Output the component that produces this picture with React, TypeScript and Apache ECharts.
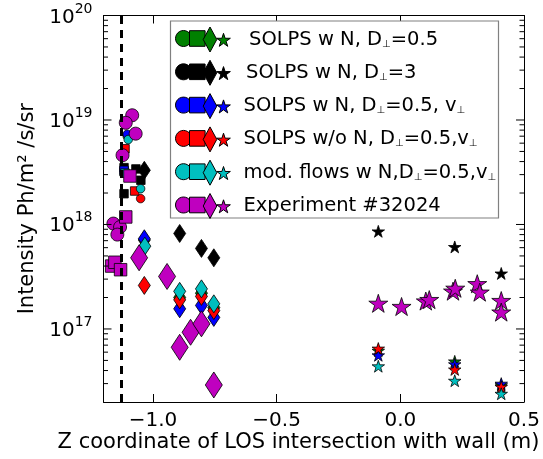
import React, { useEffect, useRef } from 'react';
import * as echarts from 'echarts';

// ---- axes ----
const X_MIN = -1.2;
const X_MAX = 0.5;
const Y_MIN = 2e16;
const Y_MAX = 1e20;
const X_TICKS = [-1.0, -0.5, 0.0, 0.5];
const Y_MAJOR = [1e17, 1e18, 1e19, 1e20];
const Y_MINOR_MULT = [2, 3, 4, 5, 6, 7, 8, 9];
const Y_DECADES = [1e16, 1e17, 1e18, 1e19];
const WALL_Z = -1.131;

const X_LABEL = 'Z coordinate of LOS intersection with wall (m)';
const Y_LABEL = 'Intensity Ph/m² /s/sr';

// ---- legend ----
const LEGEND_LABELS = [
  'SOLPS w N, D{sub|⊥}=0.5',
  'SOLPS w N, D{sub|⊥}=3',
  'SOLPS w N, D{sub|⊥}=0.5, v{sub|⊥}',
  'SOLPS w/o N, D{sub|⊥}=0.5,v{sub|⊥}',
  'mod. flows w N,D{sub|⊥}=0.5,v{sub|⊥}',
  'Experiment #32024',
];
const COLORS = ['#008000', '#000000', '#0000ff', '#ff0000', '#00bfbf', '#bf00bf'];

// ---- data: [Z (m), intensity] ----
// SOLPS w N, D=0.5 (green)
const G_CIRC = [[-1.104, 7.0e18]];
const G_SQ = [[-1.117, 3.2e18]];
const G_DIA = [[-1.035, 7.1e17], [-0.892, 2.0e17], [-0.804, 2.2e17], [-0.754, 1.6e17]];
const G_STAR = [[-0.089, 6.2e16], [0.22, 4.9e16], [0.408, 2.9e16]];
// SOLPS w N, D=3 (black)
const K_CIRC: number[][] = [];
const K_SQ = [[-1.117, 3.5e18], [-1.069, 3.4e18], [-1.049, 2.65e18], [-1.117, 1.97e18]];
const K_DIA = [[-1.035, 3.3e18], [-0.892, 8.2e17], [-0.804, 5.9e17], [-0.754, 4.8e17]];
const K_STAR = [[-0.089, 8.6e17], [0.22, 6.1e17], [0.408, 3.4e17]];
// SOLPS w N, D=0.5, v (blue)
const B_CIRC = [[-1.104, 7.3e18]];
const B_SQ = [[-1.117, 3.3e18]];
const B_DIA = [[-1.035, 7.3e17], [-0.892, 1.56e17], [-0.804, 1.68e17], [-0.754, 1.29e17]];
const B_STAR = [[-0.089, 5.6e16], [0.22, 4.6e16], [0.408, 3.0e16]];
// SOLPS w/o N (red)
const R_CIRC = [[-1.05, 1.77e18]];
const R_SQ = [[-1.113, 5.3e18], [-1.074, 2.09e18]];
const R_DIA = [[-1.035, 2.61e17], [-0.892, 1.9e17], [-0.804, 2.05e17], [-0.754, 1.5e17]];
const R_STAR = [[-0.089, 6.5e16], [0.22, 4.1e16], [0.408, 2.8e16]];
// mod. flows (cyan)
const C_CIRC = [[-1.1, 6.5e18], [-1.05, 2.2e18]];
const C_SQ = [[-1.113, 3.1e18]];
const C_DIA = [[-1.033, 6.2e17], [-0.892, 2.29e17], [-0.804, 2.42e17], [-0.754, 1.74e17]];
const C_STAR = [[-0.089, 4.4e16], [0.22, 3.2e16], [0.408, 2.4e16]];
// Experiment #32024 (magenta)
const M_CIRC = [[-1.084, 1.11e19], [-1.11, 9.4e18], [-1.07, 7.4e18], [-1.123, 4.6e18], [-1.16, 1.02e18], [-1.133, 9.45e17], [-1.144, 8.0e17]];
const M_SQ = [[-1.093, 2.91e18], [-1.11, 1.18e18], [-1.167, 4.0e17], [-1.154, 4.35e17], [-1.131, 3.69e17]];
const M_DIA = [[-1.056, 4.8e17], [-0.943, 3.18e17], [-0.892, 6.68e16], [-0.848, 9.3e16], [-0.804, 1.12e17], [-0.754, 2.91e16]];
const M_STAR = [[-0.089, 1.76e17], [0.005, 1.64e17], [0.103, 1.85e17], [0.117, 1.91e17], [0.213, 2.3e17], [0.222, 2.45e17], [0.311, 2.71e17], [0.321, 2.25e17], [0.408, 1.87e17], [0.408, 1.45e17]];

const GROUPS = [
  [G_CIRC, G_SQ, G_DIA, G_STAR],
  [K_CIRC, K_SQ, K_DIA, K_STAR],
  [B_CIRC, B_SQ, B_DIA, B_STAR],
  [R_CIRC, R_SQ, R_DIA, R_STAR],
  [C_CIRC, C_SQ, C_DIA, C_STAR],
  [M_CIRC, M_SQ, M_DIA, M_STAR],
];

const FONT = "'DejaVu Sans', sans-serif";
const STAR_PTS: number[][] = [
  [0, -1], [0.2245, -0.309], [0.951, -0.309], [0.363, 0.118], [0.588, 0.809],
  [0, 0.382], [-0.588, 0.809], [-0.363, 0.118], [-0.951, -0.309], [-0.2245, -0.309],
];
const STAR_PATH = 'path://M0,-100L22.45,-30.9L95.1,-30.9L36.3,11.8L58.8,80.9L0,38.2L-58.8,80.9L-36.3,11.8L-95.1,-30.9L-22.45,-30.9Z';

function buildSeries() {
  const series: any[] = [];
  GROUPS.forEach((g, i) => {
    const big = i === 5;
    const syms: any[] = [
      ['circle', big ? 13 : 8.5],
      ['rect', big ? 12.5 : 8.5],
      ['diamond', big ? [17, 26] : [12, 18]],
      [STAR_PATH, big ? 19 : 12.5],
    ];
    g.forEach((data, j) => {
      series.push({
        type: 'scatter',
        name: `s${i}_${j}`,
        data,
        symbol: syms[j][0],
        symbolSize: syms[j][1],
        symbolKeepAspect: true,
        itemStyle: { color: COLORS[i], borderColor: '#000', borderWidth: 0.8, opacity: 1 },
        z: 3,
        silent: true,
      });
    });
  });
  return series;
}

function buildLegend() {
  const els: any[] = [];
  els.push({
    type: 'rect',
    shape: { x: 170.5, y: 21, width: 328, height: 197 },
    style: { fill: '#fff', stroke: '#808080', lineWidth: 1.2 },
    z: 10,
  });
  const textX = [249, 246, 243.5, 243.5, 243.5, 243.5];
  LEGEND_LABELS.forEach((lab, i) => {
    const cy = 38.5 + 33.3 * i;
    const col = COLORS[i];
    const st = { fill: col, stroke: '#000', lineWidth: 1 };
    els.push({ type: 'circle', shape: { cx: 183.5, cy, r: 8 }, style: st, z: 11 });
    els.push({ type: 'rect', shape: { x: 189.5, y: cy - 7.8, width: 15.6, height: 15.6 }, style: st, z: 12 });
    els.push({
      type: 'polygon',
      shape: { points: [[210, cy - 11.5], [216.8, cy + 1], [210, cy + 13.5], [203.2, cy + 1]] },
      style: st, z: 13,
    });
    els.push({
      type: 'polygon',
      shape: { points: STAR_PTS.map(([x, y]) => [223.5 + x * 7.2, cy + 2 + y * 7.2]) },
      style: st, z: 14,
    });
    els.push({
      type: 'text',
      x: textX[i], y: cy - 0.5,
      style: {
        text: lab,
        fill: '#000',
        fontSize: 19.5,
        fontFamily: FONT,
        verticalAlign: 'middle',
        align: 'left',
        rich: {
          sub: { fontSize: 10, fontFamily: FONT, lineHeight: 10, verticalAlign: 'bottom' },
        },
        lineHeight: 20,
      },
      z: 15,
    });
  });
  return els;
}

export default function App() {
  const ref = useRef<HTMLDivElement>(null);
  useEffect(() => {
    if (!ref.current) return;
    const chart = echarts.init(ref.current, undefined, { renderer: 'svg' });

    const yMinor: number[] = [];
    Y_DECADES.forEach((d) => Y_MINOR_MULT.forEach((m) => {
      const v = d * m;
      if (v > Y_MIN && v < Y_MAX) yMinor.push(v);
    }));
    const tickData = [
      ...Y_MAJOR.map((v) => [X_MIN, v, 1]),
      ...yMinor.map((v) => [X_MIN, v, 0]),
    ];

    const axisLine = { show: true, onZero: false, lineStyle: { color: '#000', width: 1 } };
    const xTick = { show: true, inside: true, length: 8, customValues: X_TICKS, lineStyle: { color: '#000', width: 1 } };

    const option: any = {
      animation: false,
      textStyle: { fontFamily: FONT },
      grid: { left: 103.5, right: 19, top: 15.5, bottom: 57, containLabel: false },
      xAxis: [
        {
          type: 'value', min: X_MIN, max: X_MAX, position: 'bottom',
          axisLine, axisTick: xTick,
          axisLabel: {
            customValues: X_TICKS,
            formatter: (v: number) => (v < 0 ? '−' + Math.abs(v).toFixed(1) : v.toFixed(1)),
            fontSize: 20, lineHeight: 20, color: '#000', margin: 7, fontFamily: FONT,
            showMinLabel: true, showMaxLabel: true,
          },
          splitLine: { show: false },
        },
        {
          type: 'value', min: X_MIN, max: X_MAX, position: 'top',
          axisLine, axisTick: xTick, axisLabel: { show: false }, splitLine: { show: false },
        },
      ],
      yAxis: [
        {
          type: 'log', logBase: 10, min: Y_MIN, max: Y_MAX, position: 'left',
          axisLine, axisTick: { show: false }, splitLine: { show: false },
          axisLabel: {
            margin: 11, color: '#000',
            formatter: (v: number) => {
              const e = Math.round(Math.log10(v));
              return Math.abs(v / Math.pow(10, e) - 1) < 1e-6 ? `{b|10}{s|${e}}` : '';
            },
            rich: {
              b: { fontSize: 20, lineHeight: 30, fontFamily: FONT, color: '#000' },
              s: { fontSize: 14, lineHeight: 14, verticalAlign: 'top', fontFamily: FONT, color: '#000' },
            },
          },
        },
        {
          type: 'log', logBase: 10, min: Y_MIN, max: Y_MAX, position: 'right',
          axisLine, axisTick: { show: false }, axisLabel: { show: false }, splitLine: { show: false },
        },
      ],
      series: [
        {
          type: 'line', data: [], z: 1, silent: true,
          markLine: {
            silent: true, symbol: ['none', 'none'], label: { show: false },
            lineStyle: { color: '#000', width: 3, type: [8, 6] },
            data: [{ xAxis: WALL_Z }],
          },
        },
        ...buildSeries(),
        {
          type: 'custom', data: tickData, encode: { x: 0, y: 1 }, clip: false, silent: true, z: 5,
          renderItem: (params: any, api: any) => {
            const v = api.value(1);
            const major = api.value(2) === 1;
            const pl = api.coord([X_MIN, v]);
            const pr = api.coord([X_MAX, v]);
            const len = major ? 8 : 4.5;
            const s = { stroke: '#000', lineWidth: 1 };
            return {
              type: 'group',
              children: [
                { type: 'line', shape: { x1: pl[0], y1: pl[1], x2: pl[0] + len, y2: pl[1] }, style: s },
                { type: 'line', shape: { x1: pr[0], y1: pr[1], x2: pr[0] - len, y2: pr[1] }, style: s },
              ],
            };
          },
        },
      ],
      graphic: {
        elements: [
          ...buildLegend(),
          {
            type: 'text', x: 298.5, y: 441,
            style: { text: X_LABEL, fill: '#000', fontSize: 21, lineHeight: 21, fontFamily: FONT, align: 'center', verticalAlign: 'middle' },
          },
          {
            type: 'text', x: 26, y: 208.7, rotation: Math.PI / 2,
            style: { text: Y_LABEL, fill: '#000', fontSize: 21, fontFamily: FONT, align: 'center', verticalAlign: 'middle' },
          },
        ],
      },
    };
    chart.setOption(option);
    return () => chart.dispose();
  }, []);
  return <div ref={ref} style={{ position: 'fixed', left: 0, top: 0, width: 543, height: 459 }} />;
}
